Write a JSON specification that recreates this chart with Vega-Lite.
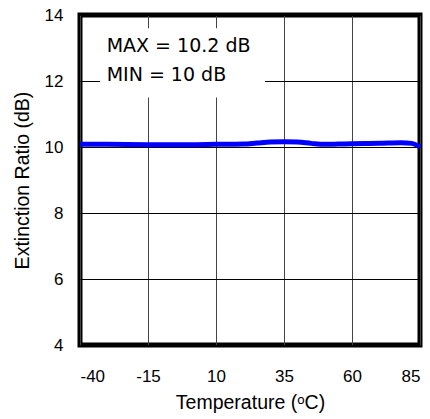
{
  "$schema": "https://vega.github.io/schema/vega-lite/v6.json",
  "width": 340,
  "height": 330,
  "autosize": {"type": "none"},
  "padding": {"left": 80, "top": 15, "right": 10, "bottom": 74},
  "background": "white",
  "config": {
    "view": {"stroke": "black", "strokeWidth": 5},
    "axis": {
      "domain": false,
      "ticks": false,
      "tickSize": 0,
      "grid": true,
      "gridWidth": 1,
      "labelFont": "Liberation Sans",
      "labelFontSize": 17,
      "labelColor": "black",
      "labelExpr": "'' + datum.value",
      "titleFont": "Liberation Sans",
      "titleFontSize": 19.5,
      "titleFontWeight": "normal",
      "titleColor": "black"
    }
  },
  "datasets": {
    "curve": [
      {"temp": -40, "er": 10.08},
      {"temp": -30, "er": 10.08},
      {"temp": -15, "er": 10.07},
      {"temp": 0, "er": 10.07},
      {"temp": 10, "er": 10.08},
      {"temp": 20, "er": 10.09},
      {"temp": 25, "er": 10.12},
      {"temp": 30, "er": 10.15},
      {"temp": 35, "er": 10.16},
      {"temp": 40, "er": 10.15},
      {"temp": 45, "er": 10.11},
      {"temp": 50, "er": 10.08},
      {"temp": 55, "er": 10.09},
      {"temp": 60, "er": 10.1},
      {"temp": 70, "er": 10.11},
      {"temp": 78, "er": 10.13},
      {"temp": 82, "er": 10.11},
      {"temp": 85, "er": 10.0}
    ],
    "single": [{}]
  },
  "layer": [
    {
      "data": {"name": "curve"},
      "mark": {"type": "line", "color": "#0000ff", "strokeWidth": 5, "interpolate": "monotone"},
      "encoding": {
        "x": {
          "field": "temp",
          "type": "quantitative",
          "scale": {"domain": [-40, 85], "nice": false, "zero": false},
          "axis": {
            "values": [-40, -15, 10, 35, 60, 85],
            "title": "Temperature (ᵒC)",
            "labelPadding": 23,
            "titlePadding": 9,
            "gridColor": "#444"
          }
        },
        "y": {
          "field": "er",
          "type": "quantitative",
          "scale": {"domain": [4, 14], "nice": false, "zero": false},
          "axis": {
            "values": [4, 6, 8, 10, 12, 14],
            "title": "Extinction Ratio (dB)",
            "labelPadding": 17,
            "titlePadding": 12,
            "gridColor": "black"
          }
        }
      }
    },
    {
      "data": {"name": "single"},
      "mark": {"type": "rect", "fill": "white"},
      "encoding": {
        "x": {"datum": -32.6, "type": "quantitative"},
        "x2": {"datum": 28},
        "y": {"datum": 11.5, "type": "quantitative"},
        "y2": {"datum": 13.6}
      }
    },
    {
      "data": {"name": "single"},
      "mark": {"type": "text", "text": "MAX = 10.2 dB", "font": "DejaVu Sans", "fontSize": 19, "align": "left", "baseline": "alphabetic", "color": "black"},
      "encoding": {
        "x": {"datum": -30.2, "type": "quantitative"},
        "y": {"datum": 12.87, "type": "quantitative"}
      }
    },
    {
      "data": {"name": "single"},
      "mark": {"type": "text", "text": "MIN = 10 dB", "font": "DejaVu Sans", "fontSize": 19, "align": "left", "baseline": "alphabetic", "color": "black"},
      "encoding": {
        "x": {"datum": -30.2, "type": "quantitative"},
        "y": {"datum": 12.0, "type": "quantitative"}
      }
    }
  ]
}
